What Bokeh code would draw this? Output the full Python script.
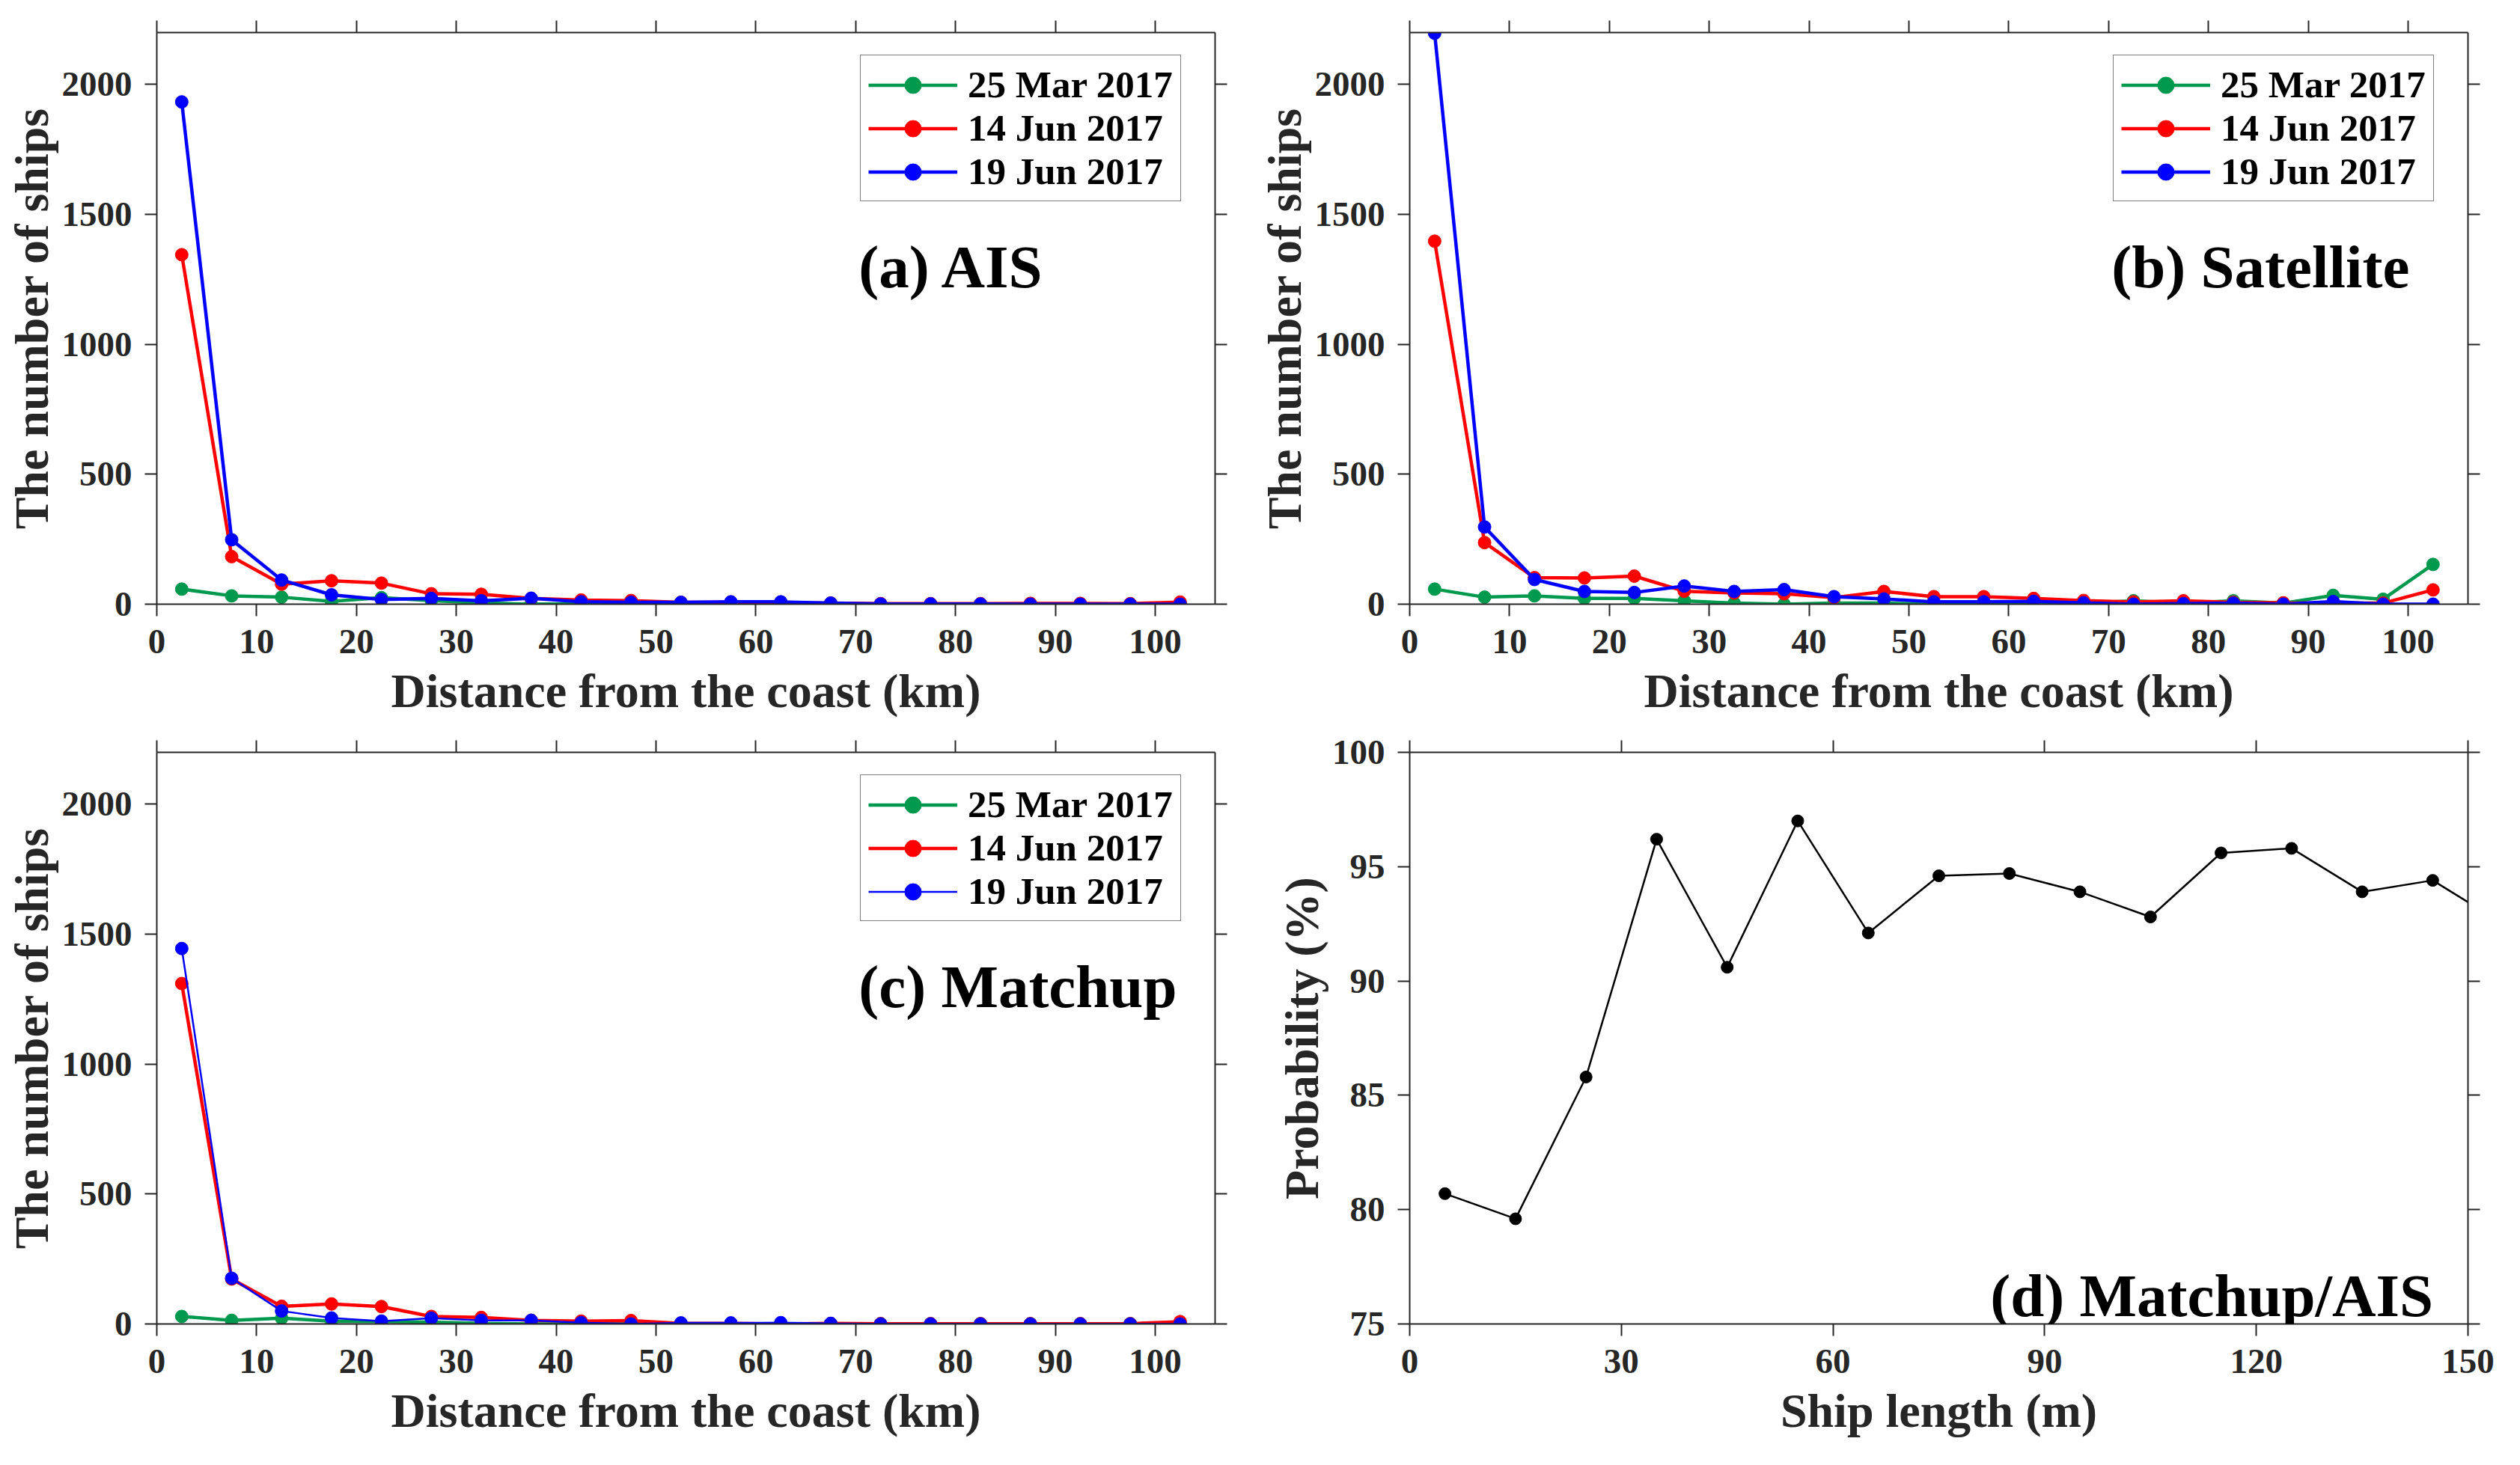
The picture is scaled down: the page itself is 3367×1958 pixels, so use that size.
from bokeh.plotting import figure
from bokeh.layouts import column, row
from bokeh.models import FixedTicker, LinearAxis, Label, Legend, LegendItem, Range1d
from bokeh.embed import file_html
from bokeh.resources import INLINE

# ---------------- data ----------------
distance_km = [2.5, 7.5, 12.5, 17.5, 22.5, 27.5, 32.5, 37.5, 42.5, 47.5, 52.5,
               57.5, 62.5, 67.5, 72.5, 77.5, 82.5, 87.5, 92.5, 97.5, 102.5]
series_names = ["25 Mar 2017", "14 Jun 2017", "19 Jun 2017"]

ais_mar25 = [58, 32, 27, 11, 25, 14, 5, 0, 2, 3, 2, 2, 3, 2, 1, 1, 1, 1, 1, 0, 0]
ais_jun14 = [1345, 183, 77, 90, 81, 40, 38, 22, 16, 14, 7, 7, 5, 4, 2, 2, 2, 3, 3, 2, 8]
ais_jun19 = [1933, 248, 93, 36, 18, 22, 13, 23, 9, 7, 7, 9, 9, 4, 1, 1, 1, 0, 0, 0, 0]

sat_mar25 = [58, 27, 32, 22, 22, 13, 4, 0, 4, 4, 0, 0, 7, 4, 13, 4, 13, 4, 34, 19, 153]
sat_jun14 = [1397, 237, 102, 101, 108, 50, 43, 40, 25, 49, 29, 29, 22, 14, 9, 13, 7, 5, 4, 4, 55]
sat_jun19 = [2197, 297, 95, 49, 45, 70, 49, 56, 29, 20, 9, 9, 11, 5, 0, 2, 4, 0, 10, 0, 0]

match_mar25 = [29, 14, 22, 11, 9, 7, 2, 0, 0, 1, 1, 1, 1, 1, 1, 1, 1, 1, 1, 1, 1]
match_jun14 = [1310, 173, 68, 77, 67, 29, 25, 14, 11, 13, 2, 2, 0, 2, 1, 1, 1, 1, 1, 1, 9]
match_jun19 = [1445, 176, 50, 23, 11, 22, 14, 14, 5, 0, 4, 4, 5, 2, 0, 0, 0, 0, 0, 0, 0]

ship_length_m = [5, 15, 25, 35, 45, 55, 65, 75, 85, 95, 105, 115, 125, 135, 145, 155]
probability_pct = [80.7, 79.6, 85.8, 96.2, 90.6, 97.0, 92.1, 94.6, 94.7, 93.9,
                   92.8, 95.6, 95.8, 93.9, 94.4, 92.5]

dist_ticks = [0, 10, 20, 30, 40, 50, 60, 70, 80, 90, 100]
count_ticks = [0, 500, 1000, 1500, 2000]
length_ticks = [0, 30, 60, 90, 120, 150]
prob_ticks = [75, 80, 85, 90, 95, 100]

# ---------------- style ----------------
AX = "#262626"
FONT = "Liberation Serif"
COLORS = ["#00994D", "#FF0000", "#0000FF"]


def style_axis(ax, ticks, labels=True):
    ax.ticker = FixedTicker(ticks=ticks, minor_ticks=[])
    ax.axis_line_color = AX
    ax.axis_line_width = 2
    ax.major_tick_line_color = AX
    ax.major_tick_line_width = 2
    ax.major_tick_out = 16
    ax.major_tick_in = 0
    ax.minor_tick_line_color = None
    ax.major_label_text_font = FONT
    ax.major_label_text_font_size = "47px"
    ax.major_label_text_font_style = "bold"
    ax.major_label_text_color = AX
    if not labels:
        ax.major_label_overrides = {t: "" for t in ticks}


def make_fig(width, height, mbl, mbr, mbt, mbb, xr, yr, xticks, yticks, xlabel, ylabel):
    p = figure(width=width, height=height, x_range=Range1d(*xr), y_range=Range1d(*yr),
               output_backend="svg", toolbar_location=None,
               min_border_left=mbl, min_border_right=mbr,
               min_border_top=mbt, min_border_bottom=mbb,
               background_fill_color="white", border_fill_color="white")
    p.outline_line_color = None
    p.xgrid.visible = False
    p.ygrid.visible = False
    style_axis(p.xaxis[0], xticks)
    style_axis(p.yaxis[0], yticks)
    p.xaxis[0].major_label_standoff = 18
    p.yaxis[0].major_label_standoff = 17
    for ax, lab, st in ((p.xaxis[0], xlabel, 12), (p.yaxis[0], ylabel, 2)):
        ax.axis_label = lab
        ax.axis_label_text_font = FONT
        ax.axis_label_text_font_size = "64px"
        ax.axis_label_text_font_style = "bold"
        ax.axis_label_text_color = AX
        ax.axis_label_standoff = st
    top = LinearAxis()
    style_axis(top, xticks, labels=False)
    p.add_layout(top, "above")
    right = LinearAxis()
    style_axis(right, yticks, labels=False)
    p.add_layout(right, "right")
    return p


# row 1: frame top at 51, bottom at 815; row 2: frame top at 1013, bottom at 1777
ROW1 = dict(height=43 + 764 + 172, mbt=43, mbb=172)
ROW2 = dict(height=26 + 764 + 172, mbt=26, mbb=172)


def count_panel(width, mbl, mbr, rowcfg, series, tag, blue_width=4.5):
    p = make_fig(width, rowcfg["height"], mbl, mbr, rowcfg["mbt"], rowcfg["mbb"],
                 (0, 106), (0, 2200), dist_ticks, count_ticks,
                 "Distance from the coast (km)", "The number of ships")
    items = []
    for i, (name, vals) in enumerate(zip(series_names, series)):
        lw = blue_width if i == 2 else 4.5
        lr = p.line(distance_km, vals, line_color=COLORS[i], line_width=lw)
        sr = p.scatter(distance_km, vals, marker="circle", size=17,
                       fill_color=COLORS[i], line_color=COLORS[i])
        items.append(LegendItem(label=name, renderers=[lr, sr]))
    leg = Legend(items=items, location=(940, 538),
                 label_text_font=FONT, label_text_font_size="51px",
                 label_text_font_style="bold", label_text_color="black",
                 glyph_width=119, glyph_height=55, label_height=55,
                 label_standoff=14, spacing=0, padding=10, margin=0,
                 border_line_color="black", border_line_width=1.5,
                 background_fill_color="white", background_fill_alpha=1.0)
    p.add_layout(leg)
    p.add_layout(Label(x=70.3, y=1296, text=tag, text_font=FONT,
                       text_font_size="81px", text_font_style="bold",
                       text_color="black", text_align="left",
                       text_baseline="alphabetic"))
    return p


pa = count_panel(1675, 209, 52, ROW1, [ais_mar25, ais_jun14, ais_jun19], "(a) AIS")
pb = count_panel(1662, 208, 40, ROW1, [sat_mar25, sat_jun14, sat_jun19], "(b) Satellite")
pc = count_panel(1675, 209, 52, ROW2, [match_mar25, match_jun14, match_jun19], "(c) Matchup",
                 blue_width=2.5)

pd = make_fig(1662, ROW2["height"], 208, 40, ROW2["mbt"], ROW2["mbb"],
              (0, 150), (75, 100), length_ticks, prob_ticks,
              "Ship length (m)", "Probability (%)")
pd.line(ship_length_m, probability_pct, line_color="black", line_width=2.5)
pd.scatter(ship_length_m, probability_pct, marker="circle", size=16,
           fill_color="black", line_color="black")
pd.add_layout(Label(x=82.3, y=76.23, text="(d) Matchup/AIS", text_font=FONT,
                    text_font_size="81px", text_font_style="bold",
                    text_color="black", text_align="left",
                    text_baseline="alphabetic"))

layout = column(row(pa, pb), row(pc, pd))
open("out.html", "w").write(file_html(layout, INLINE))
